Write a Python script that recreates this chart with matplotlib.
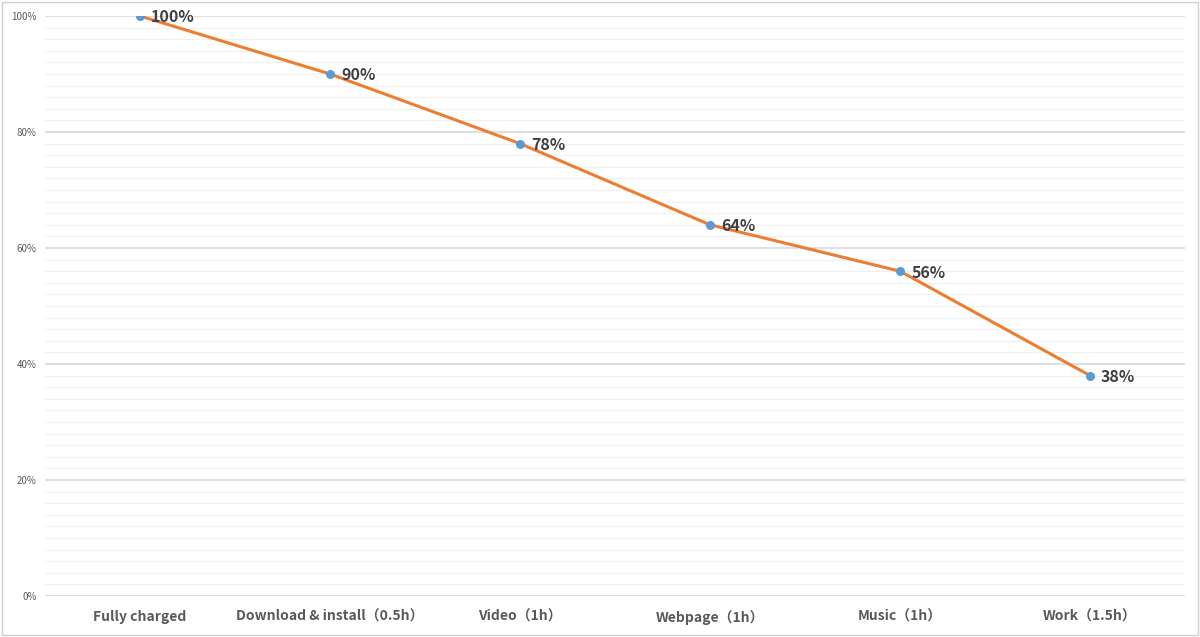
import matplotlib.pyplot as plt
import matplotlib.ticker as mtick
from matplotlib.patches import Rectangle

stages = ["Fully charged", "Download & install（0.5h）", "Video（1h）",
          "Webpage（1h）", "Music（1h）", "Work（1.5h）"]
battery = [100, 90, 78, 64, 56, 38]

plt.rcParams['font.family'] = ['Noto Sans CJK SC', 'DejaVu Sans']

fig = plt.figure(figsize=(12, 6.37), dpi=100)
ax = fig.add_axes([0.0375, 0.0644, 0.95, 0.9105])

x = list(range(len(stages)))
ax.plot(x, battery, color='#ED7D31', lw=2.2, zorder=3)
ax.scatter(x, battery, s=30, color='#5B9BD5', zorder=4)

for xi, v in zip(x, battery):
    ax.annotate(f"{v}%", (xi, v), xytext=(8, -1), textcoords='offset points',
                ha='left', va='center', fontsize=11.5, fontweight='bold',
                color='#404040', zorder=5)

ax.set_xlim(-0.5, len(stages) - 0.5)
ax.set_ylim(0, 100)
ax.set_xticks(x)
ax.set_xticklabels(stages, fontsize=10, fontweight='bold', color='#595959')
ax.set_yticks(range(0, 101, 20))
ax.yaxis.set_major_formatter(mtick.FuncFormatter(lambda v, p: f"{int(v)}%"))
ax.set_yticks(range(0, 101, 2), minor=True)
ax.tick_params(axis='y', which='both', length=0, labelsize=7, labelcolor='#595959', pad=6)
ax.tick_params(axis='x', length=0, pad=10)

ax.grid(axis='y', which='major', color='#D9D9D9', lw=1.2)
ax.grid(axis='y', which='minor', color='#F0F0F0', lw=0.9)
ax.set_axisbelow(True)
for s in ax.spines.values():
    s.set_visible(False)
ax.axhline(0, color='#D9D9D9', lw=1.2, zorder=1)

fig.patches.append(Rectangle((0.002, 0.003), 0.996, 0.994, transform=fig.transFigure,
                             fill=False, edgecolor='#D0D0D0', lw=1))

fig.savefig('out.png', dpi=100)
